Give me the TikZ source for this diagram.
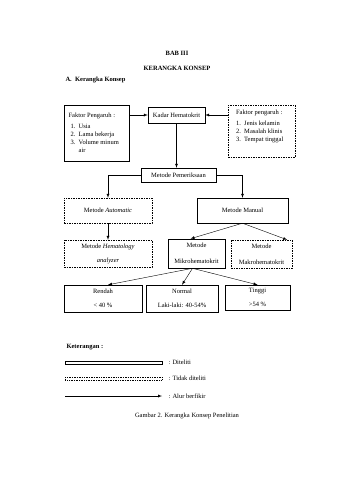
\documentclass[tikz,border=0pt]{standalone}
\usepackage{fontspec}
\setmainfont{Liberation Serif}
\usetikzlibrary{positioning}

\begin{document}
\begin{tikzpicture}[x=1pt, y=-1pt, font=\fontsize{6.5}{8}\selectfont,
  box/.style={draw, thin, align=center, inner sep=1pt},
  dbox/.style={box, dash pattern=on 1.5pt off 1pt},
  every path/.style={thin}]
\useasboundingbox (0,0) rectangle (339,480);
% judul
\node (bab) at (177,53) {\bfseries BAB III};
\node (judul) at (177,68) {\bfseries KERANGKA KONSEP};
\node[anchor=west] (sub) at (62,80) {\bfseries A.\ \ Kerangka Konsep};
% baris atas
\node (kadar) [box, minimum width=57, minimum height=16] at (176.5,115) {Kadar Hematokrit};
\node (fl) [box, minimum width=65, minimum height=56, anchor=north west] at (64,105)
  {\begin{tabular}{@{}l@{}}Faktor Pengaruh :\\[3pt]
   \begin{tabular}{@{\hspace{2pt}}l@{\ \ }l@{}}1.&Usia\\2.&Lama bekerja\\3.&Volume minum\\&air\end{tabular}\end{tabular}\hspace{6pt}};
\node (fr) [dbox, minimum width=67, minimum height=52, text height=20pt, text depth=26pt, anchor=north west] at (228,105)
  {\begin{tabular}{@{}l@{}}Faktor pengaruh :\\[3pt]
   \begin{tabular}{@{}l@{\ \ }l@{}}1.&Jenis kelamin\\2.&Masalah klinis\\3.&Tempat tinggal\end{tabular}\end{tabular}\hspace{4pt}};
\node (periksa) [box, minimum width=75, minimum height=14] at (178.5,175) {Metode Pemeriksaan};
% metode
\node (auto) [dbox, minimum width=88, minimum height=25] at (108,210.5) {Metode \textit{Automatic}};
\node (manual) [box, minimum width=91, minimum height=25] at (242.5,210.5) {Metode Manual};
\node (hema) [dbox, minimum width=88, minimum height=27] at (108,253.5) {Metode \textit{Hematology}\\[6pt]\textit{analyzer}};
\node (mikro) [box, semithick, minimum width=57, minimum height=29] at (196.5,253.5) {Metode\\[8pt]Mikrohematokrit};
\node (makro) [dbox, minimum width=61, minimum height=28] at (261.5,254) {Metode\\[8pt]Makrohematokrit};
% hasil
\node (rendah) [box, minimum width=78, minimum height=27] at (103,298.5) {Rendah\\[6pt]< 40 \%};
\node (normal) [box, minimum width=72, minimum height=27] at (182,298.5) {Normal\\[6pt]Laki-laki: 40-54\%};
\node (tinggi) [box, minimum width=65, minimum height=25] at (257.5,297.5) {Tinggi\\[6pt]>54 \%};
% alur
\draw[-latex] (fl.east |- kadar.west) -- (kadar.west);
\draw[-latex] (fr.west |- kadar.east) -- (kadar.east);
\draw[-latex] (kadar.south) -- (kadar.south |- periksa.north);
\draw[-latex] (periksa.west) -| (auto.north);
\draw[-latex] (periksa.east) -| (manual.north);
\draw[-latex] (auto.south) -- (hema.north);
\draw[-latex] (manual.south) -- ([xshift=-6pt]mikro.north);
\draw[-latex] (manual.south) -- ([xshift=-5pt]makro.north east);
\draw[-latex] ([xshift=-4pt]mikro.south) -- ([xshift=5pt]rendah.north);
\draw[-latex] ([xshift=-4pt]mikro.south) -- (normal.north);
\draw[-latex] ([xshift=-4pt]mikro.south) -- (tinggi.north);
% keterangan
\node[anchor=west] (ket) at (63,347) {\bfseries Keterangan :};
\draw (65,361) rectangle (162,364);
\draw[dash pattern=on 1pt off 0.7pt] (65,377) rectangle (162,380);
\coordinate (a1) at (65,396);
\coordinate (a2) at (162,396);
\draw[-latex] (a1) -- (a2);
\node[anchor=west] (k1) at (165,362.5) {: Diteliti};
\node[anchor=west] (k2) at (165,378.5) {: Tidak diteliti};
\node[anchor=west] (k3) at (165,396) {: Alur berfikir};
\node (gambar) at (187,416) {Gambar 2. Kerangka Konsep Penelitian};
\end{tikzpicture}
\end{document}
